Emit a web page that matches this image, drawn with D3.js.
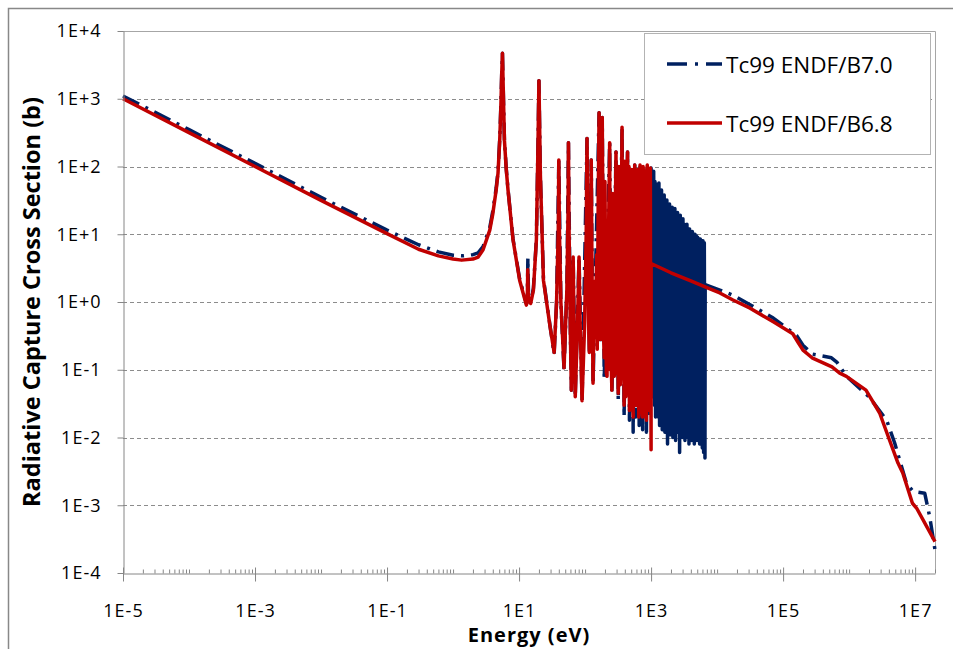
<!DOCTYPE html>
<html>
<head>
<meta charset="utf-8">
<script src="https://cdn.jsdelivr.net/npm/d3@7"></script>
<style>
body { margin: 0; background: #fff; }
text { font-family: "Open Sans", sans-serif; fill: #000; }
</style>
</head>
<body>
<svg width="953" height="649"></svg>
<script>
// ---- data (energy in eV, cross section in barns) ----

// ENDF/B-VII.0, thermal + first resonances
var b70LowE = [1e-5, 1e-4, 1e-3, 1e-2, 0.1, 0.3, 0.6, 1.0, 1.4, 2.0, 2.4, 2.85, 3.6, 4.0, 4.5, 4.8, 5.1, 5.3, 5.45, 5.6, 5.75, 6.0, 6.4, 6.8, 8.1, 10.2, 12.9, 13.3, 13.6, 13.9, 15, 16.5, 18.3, 19.4, 20, 21, 23.4, 29.5, 34];
var b70LowS = [1100, 350, 111, 35, 11.5, 7.0, 5.5, 4.9, 4.8, 5.0, 5.3, 6.6, 12.5, 22, 48, 85, 260, 780, 2200, 4700, 1500, 250, 92, 46, 8.5, 2.2, 0.95, 1.0, 4.5, 1.3, 1.0, 1.6, 8.5, 250, 1850, 80, 2.2, 0.44, 0.17];

// ENDF/B-VII.0, resolved resonances 34 eV - 1 keV
var b70ResE = [37, 40, 43, 48, 53, 56, 60, 62, 66, 71, 81, 90, 107, 116, 124, 132, 163, 172, 182, 195, 236, 255, 294, 318, 363, 390, 440, 470, 520, 535, 565, 580, 640, 660, 680, 745, 770, 850, 875, 955, 975];
var b70ResS = [1.0, 125, 1.0, 0.1, 1.5, 225, 0.3, 0.05, 4.6, 0.04, 4.6, 0.035, 260, 0.17, 125, 0.06, 620, 0.25, 530, 0.07, 225, 0.045, 163, 0.035, 380, 0.02, 163, 0.018, 71, 0.012, 105, 0.02, 77, 0.015, 105, 0.013, 75, 0.012, 105, 0.02, 95];

// ENDF/B-VII.0, dense resonance band 1 keV - 6.5 keV (peak, valley, peak, ...)
var b70BandE = [975, 1000, 1020, 1045, 1070, 1095, 1120, 1145, 1170, 1200, 1225, 1255, 1285, 1315, 1345, 1375, 1410, 1440, 1475, 1510, 1545, 1580, 1620, 1655, 1695, 1735, 1775, 1820, 1860, 1905, 1950, 1995, 2045, 2090, 2140, 2190, 2245, 2295, 2350, 2405, 2465, 2520, 2580, 2640, 2705, 2770, 2835, 2900, 2970, 3040, 3110, 3185, 3260, 3335, 3415, 3495, 3575, 3660, 3750, 3835, 3930, 4020, 4115, 4215, 4310, 4415, 4515, 4625, 4730, 4845, 4955, 5075, 5190, 5315, 5440, 5570, 5700, 5835, 5970, 6110, 6255, 6400, 6550, 6600];
var b70BandS = [95, 95, 0.04, 70, 0.05, 85, 0.03, 60, 0.02, 55, 0.035, 48, 0.02, 57, 0.015, 40, 0.025, 45, 0.013, 35, 0.02, 38, 0.012, 30, 0.018, 32, 0.008, 26, 0.015, 28, 0.011, 23, 0.016, 25, 0.01, 22, 0.013, 24, 0.009, 20, 0.014, 21, 0.012, 18, 0.006, 19, 0.012, 16, 0.01, 17, 0.013, 14, 0.009, 13, 0.012, 14, 0.01, 12, 0.008, 12, 0.011, 11, 0.009, 11, 0.01, 10, 0.008, 10, 0.011, 9.5, 0.009, 9, 0.01, 8.5, 0.008, 8.5, 0.009, 8, 0.007, 8, 0.006, 7.5, 0.005, 1.8];

// ENDF/B-VII.0, smooth fast range
var b70FastE = [6600, 11000, 17400, 31600, 71000, 1.6e5, 2.0e5, 2.8e5, 5.4e5, 6.5e5, 9.1e5, 2.0e6, 3.7e6, 4.9e6, 7.4e6, 9.3e6, 1.4e7, 1.66e7, 2.0e7];
var b70FastS = [1.8, 1.5, 1.26, 0.91, 0.58, 0.32, 0.23, 0.17, 0.15, 0.13, 0.08, 0.04, 0.018, 0.0083, 0.0021, 0.0016, 0.0015, 0.00068, 0.00022];

// ENDF/B-VI.8, thermal + first resonances
var b68LowE = [1e-5, 1e-4, 1e-3, 1e-2, 0.1, 0.3, 0.6, 1.0, 1.35, 2.0, 2.4, 2.85, 3.6, 4.0, 4.5, 4.8, 5.1, 5.3, 5.45, 5.6, 5.75, 6.0, 6.4, 6.8, 8.1, 10.2, 12.9, 13.3, 13.55, 13.8, 15, 16.5, 18.3, 19.4, 20, 21, 23.4, 29.5, 34];
var b68LowS = [1000, 316, 100, 31.6, 10.2, 6.0, 4.8, 4.3, 4.15, 4.3, 4.6, 5.9, 11.5, 20, 45, 80, 250, 760, 2200, 4700, 1500, 245, 90, 45, 8.3, 2.1, 0.9, 1.0, 3.0, 1.2, 0.95, 1.5, 8.3, 245, 1850, 80, 2.1, 0.43, 0.18];

// ENDF/B-VI.8, resolved resonances 34 eV - 1 keV
var b68ResE = [37, 39.3, 40, 40.8, 43, 48, 53, 55.2, 56, 57, 60, 62, 65, 66, 67.5, 71, 77, 81, 84, 90, 98, 104, 107, 110, 113, 116, 120, 122, 124, 127, 132, 138, 141, 145, 150, 153, 158, 163, 167, 172, 178, 182, 187, 191, 195, 200, 205, 210, 215, 220, 224, 228, 236, 240, 245, 250, 255, 262, 270, 276, 283, 288, 294, 299, 305, 311, 318, 326, 335, 342, 350, 357, 363, 370, 378, 384, 390, 398, 408, 414, 420, 430, 440, 447, 455, 462, 470, 480, 490, 497, 505, 512, 520, 527, 535, 542, 550, 557, 565, 572, 580, 590, 600, 610, 620, 630, 640, 650, 660, 670, 680, 690, 700, 710, 720, 732, 745, 757, 770, 782, 795, 807, 820, 835, 850, 862, 875, 888, 900, 915, 930, 942, 955, 965, 975, 985, 995, 1000];
var b68ResS = [1.0, 12, 125, 12, 1.0, 0.107, 1.5, 20, 225, 15, 0.3, 0.05, 1.0, 4.6, 0.8, 0.04, 0.5, 4.6, 0.5, 0.035, 0.4, 10, 260, 8, 0.5, 0.18, 1.5, 8, 125, 4, 0.063, 2, 0.3, 0.8, 5, 0.2, 30, 620, 20, 0.28, 20, 530, 8, 0.3, 0.15, 60, 2, 0.09, 0.08, 8, 0.1, 15, 225, 0.4, 3, 0.1, 0.05, 40, 6, 0.08, 0.09, 25, 163, 0.2, 1, 60, 0.045, 100, 20, 0.06, 0.1, 45, 380, 0.08, 0.5, 90, 0.03, 120, 30, 0.04, 0.05, 60, 163, 0.05, 0.3, 100, 0.025, 70, 40, 0.03, 0.06, 90, 71, 0.03, 0.02, 60, 15, 0.04, 105, 0.03, 0.03, 80, 20, 0.03, 0.04, 90, 77, 0.02, 0.025, 60, 105, 0.03, 0.05, 80, 30, 0.03, 0.02, 100, 75, 0.025, 0.035, 70, 50, 0.02, 0.018, 90, 105, 0.03, 0.04, 80, 60, 0.025, 0.03, 85, 95, 0.03, 0.05, 0.0066];

// ENDF/B-VI.8, smooth range above 1 keV
var b68FastE = [1001, 2000, 4000, 7000, 11000, 17400, 31600, 71000, 1.4e5, 1.7e5, 2.0e5, 2.8e5, 5.5e5, 7.2e5, 9.1e5, 1.8e6, 2.9e6, 4.1e6, 5.5e6, 6.5e6, 9.1e6, 1.05e7, 2.0e7];
var b68FastS = [3.7, 2.7, 2.05, 1.63, 1.36, 1.07, 0.81, 0.51, 0.34, 0.25, 0.195, 0.148, 0.11, 0.089, 0.08, 0.05, 0.023, 0.0091, 0.0042, 0.003, 0.00107, 0.00091, 0.00029];

var seriesNames = ["Tc99 ENDF/B7.0", "Tc99 ENDF/B6.8"];
var seriesColors = ["#002060", "#C00000"];

var yTicks = [1e4, 1e3, 1e2, 1e1, 1, 1e-1, 1e-2, 1e-3, 1e-4];
var yTickLabels = ["1E+4", "1E+3", "1E+2", "1E+1", "1E+0", "1E-1", "1E-2", "1E-3", "1E-4"];
var xTicks = [1e-5, 1e-3, 1e-1, 1e1, 1e3, 1e5, 1e7];
var xTickLabels = ["1E-5", "1E-3", "1E-1", "1E1", "1E3", "1E5", "1E7"];

// ---- chart ----
var svg = d3.select("svg"),
    width = +svg.attr("width"),
    height = +svg.attr("height");

var x = d3.scaleLog().domain([1e-5, 2e7]).range([123, 935]);
var y = d3.scaleLog().domain([1e-4, 1e4]).range([573, 31]);

// outer chart frame (right/bottom edges fall outside the picture)
svg.append("rect")
    .attr("x", 8.5).attr("y", 8.5)
    .attr("width", 1000).attr("height", 1000)
    .style("fill", "none").style("stroke", "#888").style("stroke-width", 1.5);

// grid lines
svg.append("g")
  .selectAll("line")
  .data(yTicks.slice(1, -1))
  .enter().append("line")
    .attr("x1", x.range()[0]).attr("x2", x.range()[1])
    .attr("y1", function(d) { return Math.round(y(d)) + 0.5; })
    .attr("y2", function(d) { return Math.round(y(d)) + 0.5; })
    .style("stroke", "#8c8c8c").style("stroke-dasharray", "4,3");

// plot area border top + right
svg.append("path")
    .attr("d", "M" + x.range()[0] + "," + (y(1e4) + 0.5) + "H" + (x.range()[1] + 0.5) + "V" + y(1e-4))
    .style("fill", "none").style("stroke", "#a6a6a6");

function pts(E, S) {
  return E.map(function(e, i) { return [e, S[i]]; });
}

var line = d3.line()
    .x(function(d) { return x(d[0]); })
    .y(function(d) { return y(d[1]); });

// B7.0: dash-dot parts, the packed band is drawn without dashes so it reads solid
var b70Dashed = [pts(b70LowE, b70LowS).concat(pts(b70ResE, b70ResS)), pts(b70FastE, b70FastS)];
var b70Band = pts(b70BandE, b70BandS);
var b68 = pts(b68LowE, b68LowS).concat(pts(b68ResE, b68ResS), pts(b68FastE, b68FastS));

svg.append("g").selectAll("path")
    .data(b70Dashed)
    .enter().append("path")
    .attr("d", line)
    .style("fill", "none")
    .style("stroke", seriesColors[0])
    .style("stroke-width", 3.5)
    .style("stroke-dasharray", "18,7,3,7")
    .style("stroke-linejoin", "round");

svg.append("path")
    .datum(b70Band)
    .attr("d", line)
    .style("fill", "none")
    .style("stroke", seriesColors[0])
    .style("stroke-width", 3.5)
    .style("stroke-linejoin", "round");

svg.append("path")
    .datum(b68)
    .attr("d", line)
    .style("fill", "none")
    .style("stroke", seriesColors[1])
    .style("stroke-width", 3.5)
    .style("stroke-linejoin", "round");

// y axis
var yAxis = svg.append("g")
    .attr("transform", "translate(" + (x.range()[0] + 0.5) + ",0)")
    .call(d3.axisLeft(y).tickValues(yTicks).tickSize(6).tickSizeOuter(0)
      .tickFormat(function(d, i) { return yTickLabels[i]; }));
yAxis.select(".domain").style("stroke", "#868686");
yAxis.selectAll(".tick line").style("stroke", "#868686");
yAxis.selectAll(".tick text")
    .attr("x", -22)
    .style("font-size", "18px")
    .style("letter-spacing", "1px")
    .style("font-family", "'Open Sans', sans-serif");

// x axis: minor ticks 2..9 inside, majors crossing
var minor = [];
for (var k = -5; k <= 7; k++) {
  [1, 2, 3, 4, 5, 6, 7, 8, 9].forEach(function(m) {
    var v = m * Math.pow(10, k);
    if (v <= 2e7 && xTicks.indexOf(v) < 0 && !(m === 1 && k === -5)) minor.push(v);
  });
}
var xMinor = svg.append("g")
    .attr("transform", "translate(0," + (y.range()[0] + 0.5) + ")")
    .call(d3.axisBottom(x).tickValues(minor).tickSize(-4).tickSizeOuter(0).tickFormat(""));
xMinor.selectAll(".tick line").style("stroke", "#868686");
xMinor.select(".domain").style("stroke", "#868686");

var xAxis = svg.append("g")
    .attr("transform", "translate(0," + (y.range()[0] + 0.5) + ")")
    .call(d3.axisBottom(x).tickValues(xTicks).tickSize(8).tickSizeOuter(0)
      .tickFormat(function(d, i) { return xTickLabels[i]; }));
xAxis.select(".domain").remove();
xAxis.selectAll(".tick line").attr("y1", -6).style("stroke", "#868686");
xAxis.selectAll(".tick text")
    .attr("y", 31)
    .style("font-size", "18px")
    .style("letter-spacing", "1px")
    .style("font-family", "'Open Sans', sans-serif");

// axis titles
svg.append("text")
    .attr("transform", "translate(40," + ((y.range()[0] + y.range()[1]) / 2) + ") rotate(-90)")
    .attr("text-anchor", "middle")
    .style("font-weight", "bold")
    .style("font-size", "23.5px")
    .text("Radiative Capture Cross Section (b)");

svg.append("text")
    .attr("x", 529).attr("y", 642)
    .attr("text-anchor", "middle")
    .style("font-weight", "bold")
    .style("font-size", "20px")
    .style("letter-spacing", "1px")
    .text("Energy (eV)");

// legend
var legend = svg.append("g");
legend.append("rect")
    .attr("x", 644.5).attr("y", 33.5).attr("width", 286).attr("height", 121)
    .style("fill", "#fff").style("stroke", "#b3b3b3");

var items = legend.selectAll("g.item")
    .data(seriesNames)
    .enter().append("g")
    .attr("class", "item")
    .attr("transform", function(d, i) { return "translate(0," + (64 + i * 59) + ")"; });

items.append("line")
    .attr("x1", 667).attr("x2", 722)
    .style("stroke", function(d, i) { return seriesColors[i]; })
    .style("stroke-width", 3.5)
    .style("stroke-dasharray", function(d, i) { return i === 0 ? "20,8,3,8,20" : null; });

items.append("text")
    .attr("x", 726).attr("y", 9)
    .style("font-size", "22.5px")
    .text(function(d) { return d; });
</script>
</body>
</html>
